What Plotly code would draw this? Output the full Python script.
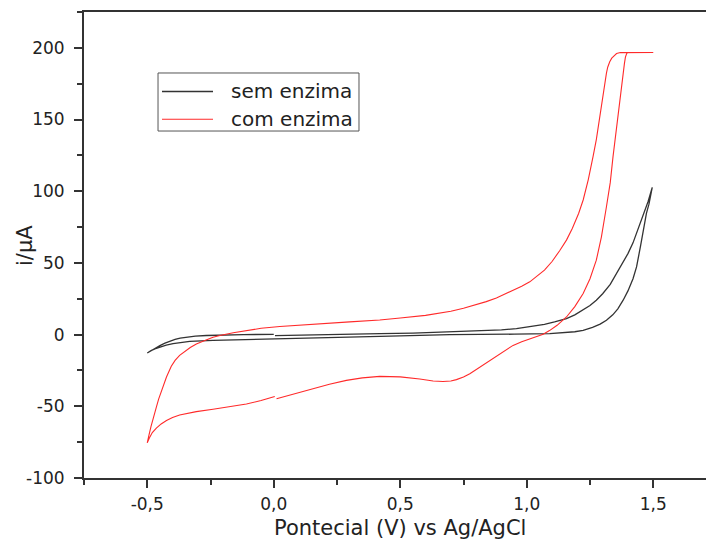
import plotly.graph_objects as go

# Cyclic voltammograms: potential (V vs Ag/AgCl) and current (uA), each loop in scan order
sem_enzima_v = [0.005, 0.10, 0.20, 0.30, 0.42, 0.55, 0.696, 0.80, 0.90, 0.959, 1.02, 1.07, 1.11, 1.157,
                1.19, 1.22, 1.25, 1.275, 1.30, 1.33, 1.355, 1.38, 1.40, 1.42, 1.434, 1.46, 1.48, 1.496,
                1.49, 1.483, 1.473, 1.463, 1.45, 1.434, 1.42, 1.40, 1.381, 1.36, 1.34, 1.315, 1.29,
                1.26, 1.223, 1.19, 1.16, 1.12, 1.091, 0.95, 0.696, 0.42, 0.20, 0.024, -0.10, -0.24,
                -0.332, -0.37, -0.398, -0.425, -0.451, -0.47, -0.485, -0.50,
                -0.49, -0.475, -0.464, -0.45, -0.43, -0.411, -0.39, -0.37, -0.345, -0.31, -0.266,
                -0.20, -0.12, 0.0]
sem_enzima_i = [-0.7, -0.5, -0.2, 0.2, 0.7, 1.1, 1.8, 2.4, 3.3, 4.2, 5.6, 7.2, 8.9, 11.2,
                13.8, 16.8, 20.3, 24.0, 28.5, 35.0, 42.6, 50.0, 56.5, 64.0, 70.6, 83.0, 93.0, 102.7,
                97.0, 91.0, 84.6, 74.0, 62.0, 47.2, 39.0, 30.5, 24.0, 18.0, 13.8, 10.0, 7.3,
                5.0, 3.0, 2.0, 1.5, 1.0, 0.7, 0.3, 0.0, -1.2, -2.0, -2.6, -3.3, -4.0,
                -4.7, -5.4, -6.3, -7.3, -8.6, -9.9, -11.2, -12.8,
                -11.6, -10.1, -9.1, -7.7, -5.9, -4.5, -3.4, -2.5, -1.7, -1.1, -0.6,
                -0.2, 0.0, 0.2]

com_enzima_v = [0.011, 0.08, 0.155, 0.22, 0.287, 0.35, 0.419, 0.50, 0.577, 0.63, 0.669, 0.70, 0.722,
                0.75, 0.775, 0.81, 0.854, 0.90, 0.946, 0.98, 1.01, 1.04, 1.065, 1.09, 1.12, 1.157,
                1.19, 1.223, 1.25, 1.275, 1.295, 1.315, 1.33, 1.341, 1.352, 1.361, 1.372, 1.381,
                1.386, 1.39, 1.395, 1.40, 1.45, 1.50,
                1.45, 1.40, 1.37, 1.355, 1.345, 1.336, 1.328, 1.32, 1.315, 1.308, 1.30, 1.295,
                1.287, 1.275, 1.262, 1.243, 1.223, 1.205, 1.18, 1.157, 1.13, 1.10, 1.07, 1.04,
                1.012, 0.98, 0.959, 0.92, 0.88, 0.84, 0.80, 0.75, 0.70, 0.60, 0.50, 0.419, 0.30,
                0.221, 0.10, 0.024, -0.05, -0.108, -0.16, -0.213, -0.24, -0.27, -0.306, -0.33,
                -0.35, -0.372, -0.39, -0.405, -0.424, -0.44, -0.455, -0.464, -0.475, -0.485,
                -0.493, -0.50,
                -0.49, -0.48, -0.464, -0.445, -0.424, -0.40, -0.372, -0.34, -0.306, -0.24, -0.17,
                -0.108, -0.05, 0.004]
com_enzima_i = [-44.7, -41.2, -37.7, -34.6, -31.9, -30.2, -29.1, -29.5, -31.0, -32.3, -32.7, -32.4, -31.4,
                -29.6, -27.3, -23.3, -18.0, -12.8, -7.5, -5.0, -3.2, -1.5, 0.3, 2.8, 6.5, 12.3,
                19.5, 28.7, 39.0, 51.9, 68.0, 89.2, 106.0, 124.1, 140.0, 156.7, 171.0, 182.4,
                189.0, 193.5, 196.0, 196.8, 196.8, 196.8,
                196.8, 196.8, 196.7, 196.0, 194.6, 192.8, 190.3, 186.5, 182.4, 174.0, 164.0, 156.7,
                148.0, 136.0, 124.1, 108.0, 93.9, 84.5, 74.0, 65.9, 58.5, 51.0, 45.0, 40.5,
                36.8, 33.7, 32.0, 28.7, 25.5, 23.0, 20.8, 18.4, 16.3, 13.4, 11.6, 10.2, 8.9,
                8.0, 6.7, 5.7, 4.4, 3.0, 1.3, -0.6, -1.9, -4.0, -6.5, -9.0,
                -11.5, -14.5, -18.0, -22.0, -29.6, -37.0, -45.0, -50.6, -57.0, -64.0,
                -70.0, -75.5,
                -71.5, -68.3, -65.2, -62.3, -59.9, -57.8, -56.0, -54.7, -53.7, -52.0, -50.3,
                -48.4, -46.0, -43.2]

x_tick_vals = [-0.5, 0.0, 0.5, 1.0, 1.5]
x_tick_text = ["-0,5", "0,0", "0,5", "1,0", "1,5"]
y_tick_vals = [-100, -50, 0, 50, 100, 150, 200]
y_tick_text = ["-100", "-50", "0", "50", "100", "150", "200"]
series_names = ["sem enzima", "com enzima"]

BLACK = "#333333"
RED = "#ff2a2a"
AXIS = "#333333"
FONT = "DejaVu Sans"

fig = go.Figure()
fig.add_trace(go.Scatter(x=sem_enzima_v, y=sem_enzima_i, mode="lines", name=series_names[0],
                         line=dict(color=BLACK, width=1.3)))
fig.add_trace(go.Scatter(x=com_enzima_v, y=com_enzima_i, mode="lines", name=series_names[1],
                         line=dict(color=RED, width=1.1)))

axis_common = dict(showgrid=False, zeroline=False, showline=True, linecolor=AXIS, linewidth=2,
                   ticks="outside", ticklen=8, tickwidth=2, tickcolor=AXIS,
                   tickfont=dict(family=FONT, size=17, color="#222222"))

fig.update_xaxes(range=[-0.75, 1.7085], tickmode="array", tickvals=x_tick_vals, ticktext=x_tick_text,
                 mirror=True, ticklabelstandoff=2,
                 minor=dict(dtick=0.25, tick0=0, ticks="outside", ticklen=5, tickwidth=2, tickcolor=AXIS),
                 **axis_common)
fig.update_yaxes(range=[-100, 225], tickmode="array", tickvals=y_tick_vals, ticktext=y_tick_text,
                 mirror=False, ticklabelstandoff=6,
                 minor=dict(dtick=25, tick0=0, ticks="outside", ticklen=5, tickwidth=2, tickcolor=AXIS),
                 **axis_common)

# axis titles
fig.add_annotation(text="Pontecial (V) vs Ag/AgCl", xref="x", yref="paper", x=0.5, y=-0.107,
                   xanchor="center", yanchor="middle", showarrow=False,
                   font=dict(family=FONT, size=21, color="#222222"))
fig.add_annotation(text="i/\u03bcA", xref="paper", yref="paper", x=-0.0949, y=0.5, textangle=-90,
                   xanchor="center", yanchor="middle", showarrow=False,
                   font=dict(family=FONT, size=21, color="#222222"))

# legend box with line samples
fig.add_shape(type="rect", xref="paper", yref="paper", x0=0.1190, x1=0.4421, y0=0.7446, y1=0.8691,
              line=dict(color="#555555", width=1), fillcolor="white")
for row_y, color, width, name in [(0.8294, BLACK, 1.3, series_names[0]), (0.7697, RED, 1.1, series_names[1])]:
    fig.add_shape(type="line", xref="paper", yref="paper", x0=0.1254, x1=0.2074, y0=row_y, y1=row_y,
                  line=dict(color=color, width=width))
    fig.add_annotation(text=name, xref="paper", yref="paper", x=0.2336, y=row_y, xanchor="left",
                       yanchor="middle", showarrow=False, font=dict(family=FONT, size=20, color="#222222"))

fig.update_layout(width=706, height=549, margin=dict(l=84, r=0, t=12, b=71),
                  paper_bgcolor="white", plot_bgcolor="white", showlegend=False)

fig.write_html("out.html")
